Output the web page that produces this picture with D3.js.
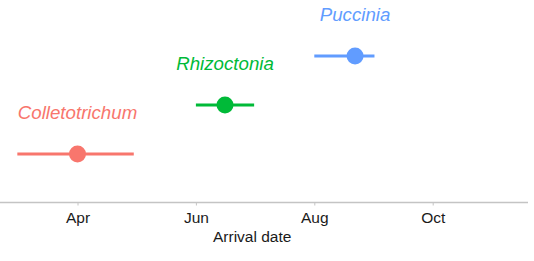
<!DOCTYPE html>
<html>
<head>
<meta charset="utf-8">
<script src="https://cdn.jsdelivr.net/npm/d3@7"></script>
<style>
	body { margin: 0; background: #fff; }
	svg { display: block; font-family: 'Liberation Sans', Arial, sans-serif; }
</style>
</head>
<body>
<div id="chart"></div>
<script>
	// data
	const pathogens = ['Colletotrichum', 'Rhizoctonia', 'Puccinia'];
	const arrival = ['2020-04-01', '2020-06-16', '2020-08-22'];
	const arrivalLow = ['2020-03-01', '2020-06-01', '2020-08-01'];
	const arrivalHigh = ['2020-04-30', '2020-07-01', '2020-09-01'];
	const colors = ['#F8766D', '#00BA38', '#619CFF'];
	const tickDates = ['2020-04-01', '2020-06-01', '2020-08-01', '2020-10-01'];
	const tickLabels = ['Apr', 'Jun', 'Aug', 'Oct'];

	const width = 534;
	const height = 261;
	const parse = d3.timeParse('%Y-%m-%d');

	const rows = pathogens.map((p, i) => ({
		name: p,
		mid: parse(arrival[i]),
		lo: parse(arrivalLow[i]),
		hi: parse(arrivalHigh[i]),
		color: colors[i],
	}));

	const svg = d3.select('#chart').append('svg')
		.attr('width', width)
		.attr('height', height);

	const x = d3.scaleTime()
		.domain([parse('2020-04-01'), parse('2020-10-01')])
		.range([77.5, 432.7]);

	const y = d3.scalePoint()
		.domain(pathogens)
		.range([202, 8])
		.padding(0.98);

	const axisY = 202.5;

	// axis line across the panel
	svg.append('line')
		.attr('x1', 0)
		.attr('x2', 528)
		.attr('y1', axisY)
		.attr('y2', axisY)
		.style('stroke', '#c4c4c4')
		.style('stroke-width', 1.5);

	const xAxis = d3.axisBottom(x)
		.tickValues(tickDates.map(parse))
		.tickFormat((d, i) => tickLabels[i])
		.tickSize(3)
		.tickPadding(6)
		.tickSizeOuter(0);

	const xAxisG = svg.append('g')
		.attr('transform', `translate(0, ${axisY})`)
		.call(xAxis);
	xAxisG.select('.domain').remove();
	xAxisG.selectAll('line').style('stroke', '#c4c4c4');
	xAxisG.attr('font-family', null).attr('font-size', null);
	xAxisG.selectAll('text')
		.style('font-size', '15.5px')
		.style('fill', '#1a1a1a');

	svg.append('text')
		.attr('x', x(parse('2020-06-30')))
		.attr('y', 242)
		.style('text-anchor', 'middle')
		.style('font-size', '15.5px')
		.style('fill', '#1a1a1a')
		.text('Arrival date');

	const groups = svg.selectAll('.pathogen')
		.data(rows)
		.enter()
		.append('g')
		.attr('class', 'pathogen');

	groups.append('line')
		.attr('x1', d => x(d.lo))
		.attr('x2', d => x(d.hi))
		.attr('y1', d => y(d.name))
		.attr('y2', d => y(d.name))
		.style('stroke', d => d.color)
		.style('stroke-width', 3);

	groups.append('circle')
		.attr('cx', d => x(d.mid))
		.attr('cy', d => y(d.name))
		.attr('r', 8.5)
		.style('fill', d => d.color);

	groups.append('text')
		.attr('x', d => x(d.mid))
		.attr('y', d => y(d.name) - 35)
		.style('text-anchor', 'middle')
		.style('font-style', 'italic')
		.style('font-size', '18.7px')
		.style('fill', d => d.color)
		.text(d => d.name);
</script>
</body>
</html>
